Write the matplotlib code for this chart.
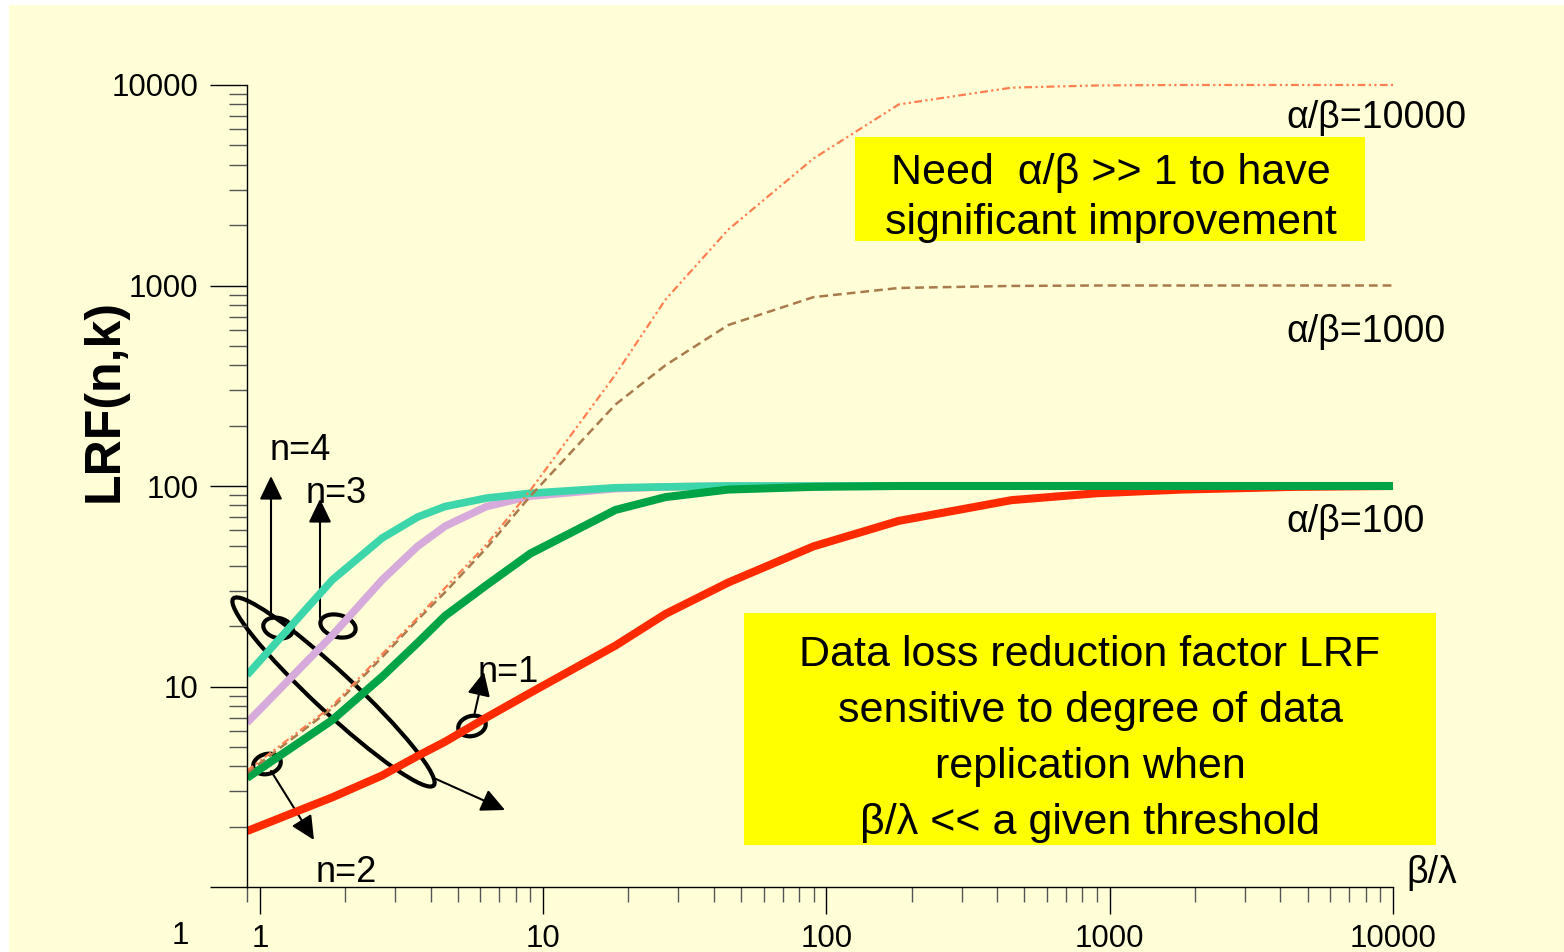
import matplotlib
matplotlib.use('Agg')
import matplotlib.pyplot as plt
from matplotlib.patches import Rectangle, Ellipse, FancyArrowPatch
from matplotlib.transforms import Affine2D
from matplotlib.ticker import FixedLocator, FixedFormatter, LogLocator, NullFormatter

plt.rcParams['font.family'] = ['Liberation Sans', 'DejaVu Sans']

# beta/lambda sample points
x_vals = [0.9, 1.8, 2.7, 3.6, 4.5, 6.3, 9, 18, 27, 45, 90, 180, 450, 900, 1800, 4500, 10000]

# LRF(n,k)
lrf_n4_a100 = [11.4, 34, 55, 70, 79, 87, 92, 98, 99, 100, 100, 100, 100, 100, 100, 100, 100]
lrf_n3_a100 = [6.6, 18, 34, 50, 63, 79, 89, 97, 99, 100, 100, 100, 100, 100, 100, 100, 100]
lrf_n2_a100 = [3.5, 6.8, 11.2, 16.5, 22.5, 32, 46, 76, 88, 96, 99, 100, 100, 100, 100, 100, 100]
lrf_n1_a100 = [1.9, 2.8, 3.6, 4.5, 5.3, 7.0, 9.3, 16, 23, 33, 50, 67, 85, 92, 96, 99, 100]
lrf_n2_a1000 = [3.7, 7.8, 14, 21.5, 29.5, 49, 89, 255, 400, 635, 875, 972, 995, 1000, 1000, 1000, 1000]
lrf_n2_a10000 = [3.8, 8.0, 14.5, 22, 31, 51, 95, 360, 850, 1900, 4300, 8000, 9700, 9950, 10000, 10000, 10000]

x_ticks = [1, 10, 100, 1000, 10000]
x_ticklabels = ['1', '10', '100', '1000', '10000']
y_ticks = [1, 10, 100, 1000, 10000]
y_ticklabels = ['', '10', '100', '1000', '10000']

W, H = 1564, 952
fig = plt.figure(figsize=(W / 100, H / 100), dpi=100, facecolor='white')
# pixel coords, origin top-left
px = Affine2D().scale(1 / W, -1 / H).translate(0, 1) + fig.transFigure

fig.add_artist(Rectangle((9, 5), W - 9, H - 5, transform=px, facecolor='#FFFED6',
                         edgecolor='none', zorder=-2))

ax = fig.add_axes([247 / W, (H - 887) / H, (1393 - 247) / W, (887 - 85) / H])
ax.patch.set_visible(False)
ax.set_xscale('log')
ax.set_yscale('log')

ax.plot(x_vals, lrf_n3_a100, color='#D6AADA', lw=5.5, solid_capstyle='butt')
ax.plot(x_vals, lrf_n4_a100, color='#3DD6AA', lw=5.5, solid_capstyle='butt')
ax.plot(x_vals, lrf_n1_a100, color='#FF2A00', lw=5.8, solid_capstyle='butt')
ax.plot(x_vals, lrf_n2_a100, color='#00A346', lw=5.8, solid_capstyle='butt')
ax.plot(x_vals, lrf_n2_a1000, color='#A97A4B', lw=1.8, linestyle=(0, (3.5, 2)))
ax.plot(x_vals, lrf_n2_a10000, color='#FF7F50', lw=1.6,
        linestyle=(0, (3.5, 1.5, 1, 1.5, 1, 1.5)), clip_on=False)

ax.set_xlim(0.9, 10000)
ax.set_ylim(1, 10000)

ax.xaxis.set_major_locator(FixedLocator(x_ticks))
ax.xaxis.set_major_formatter(FixedFormatter(x_ticklabels))
ax.yaxis.set_major_locator(FixedLocator(y_ticks))
ax.yaxis.set_major_formatter(FixedFormatter(y_ticklabels))
ax.xaxis.set_minor_locator(LogLocator(base=10, subs=range(2, 10)))
ax.yaxis.set_minor_locator(LogLocator(base=10, subs=range(2, 10)))
ax.xaxis.set_minor_formatter(NullFormatter())
ax.yaxis.set_minor_formatter(NullFormatter())

ax.tick_params(axis='y', which='major', direction='out', length=27, width=1, pad=8, labelsize=22.5)
ax.tick_params(axis='y', which='minor', direction='out', length=13, width=1, color='#555555')
ax.tick_params(axis='x', which='major', direction='out', length=19.5, width=1, pad=7, labelsize=22.5)
ax.tick_params(axis='x', which='minor', direction='out', length=11, width=1, color='#555555')

for side in ['top', 'right']:
    ax.spines[side].set_visible(False)
for side in ['left', 'bottom']:
    ax.spines[side].set_linewidth(1)

ax.set_ylabel('LRF(n,k)', fontsize=36, fontweight='bold', va='center')
ax.yaxis.set_label_coords(-0.124, 0.606)
ax.set_xlabel('β/λ', fontsize=27, va='center')
ax.xaxis.set_label_coords(1.034, 0.0175)

# lone "1" label of the y axis
fig.text(180, 936, '1', transform=px, fontsize=22.5, ha='center', va='center')

# curve labels
ax.text(4190, 6840, 'α/β=10000', fontsize=27, ha='left', va='center')
ax.text(4190, 586, 'α/β=1000', fontsize=27, ha='left', va='center')
ax.text(4190, 66.1, 'α/β=100', fontsize=27, ha='left', va='center')

ax.text(1.385, 150, 'n=4', fontsize=26, ha='center', va='center')
ax.text(1.856, 92, 'n=3', fontsize=26, ha='center', va='center')
ax.text(7.52, 11.7, 'n=1', fontsize=26, ha='center', va='center')
ax.text(2.01, 1.18, 'n=2', fontsize=26, ha='center', va='center')

# ellipses and arrows (drawn beneath the curves)
ell_kw = dict(transform=px, fill=False, edgecolor='black', lw=3, zorder=-1)
fig.add_artist(Ellipse((333.5, 692), 274, 40, angle=43, **ell_kw))
fig.add_artist(Ellipse((278, 628), 30, 20, angle=15, **ell_kw))
fig.add_artist(Ellipse((338, 626), 36, 22, angle=15, **ell_kw))
fig.add_artist(Ellipse((267, 764), 28, 20, angle=-15, **ell_kw))
fig.add_artist(Ellipse((472, 726), 28, 20, angle=-15, **ell_kw))

arrows = [((271, 618), (271, 476)),
          ((320, 618), (320, 499)),
          ((271, 771), (314, 840)),
          ((474, 716), (484, 672)),
          ((436, 779), (505, 810))]
for a, b in arrows:
    fig.add_artist(FancyArrowPatch(a, b, transform=px, arrowstyle='-|>,head_length=1.45,head_width=0.7',
                                   mutation_scale=10, color='black', lw=1.5,
                                   shrinkA=0, shrinkB=0, zorder=-1))

# yellow note boxes
fig.add_artist(Rectangle((855, 137), 510, 104, transform=px, facecolor='#FFFF00',
                         edgecolor='none', zorder=-1))
fig.text(1111, 173, 'Need  α/β >> 1 to have', transform=px, fontsize=31, ha='center', va='center')
fig.text(1111, 223, 'significant improvement', transform=px, fontsize=31, ha='center', va='center')

fig.add_artist(Rectangle((744, 613), 692, 232, transform=px, facecolor='#FFFF00',
                         edgecolor='none', zorder=-1))
box_lines = ['Data loss reduction factor LRF', 'sensitive to degree of data',
             'replication when', 'β/λ << a given threshold']
for i, s in enumerate(box_lines):
    fig.text(1090, 655 + 56 * i, s, transform=px, fontsize=31, ha='center', va='center')

fig.savefig('out.png', dpi=100, facecolor='white')
